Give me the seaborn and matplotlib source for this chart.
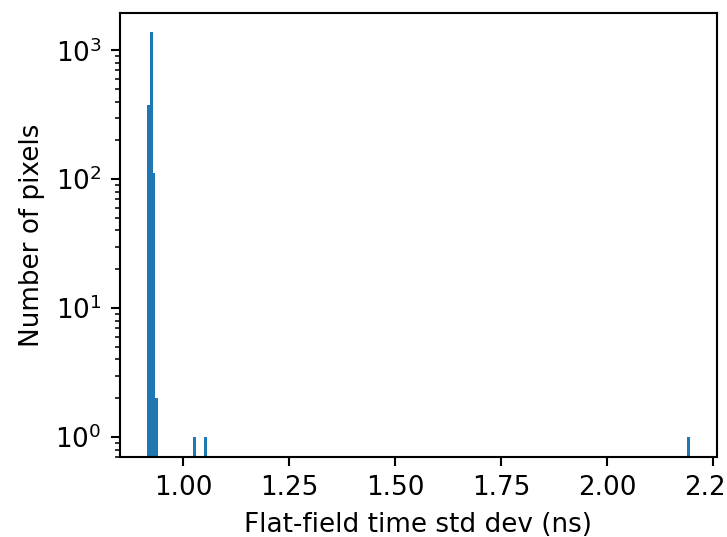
import numpy as np
import pandas as pd
import matplotlib
matplotlib.use("Agg")
import matplotlib.pyplot as plt
from matplotlib.ticker import MultipleLocator
import seaborn as sns

# std dev values (ns) per occupied bin and number of pixels in each
std_values = [0.918, 0.924, 0.931, 0.937, 1.028, 1.054, 2.192]
pixel_counts = [375, 1380, 111, 2, 1, 1, 1]

df = pd.DataFrame({"std": std_values, "n": pixel_counts})

dpi = 189
fig, ax = plt.subplots(figsize=(727 / dpi, 537 / dpi), dpi=dpi)
fig.subplots_adjust(left=0.165, right=0.986, top=0.976, bottom=0.149)

sns.histplot(data=df, x="std", weights="n", bins=200, binrange=(0.915, 2.195),
             color="#1f77b4", alpha=1, linewidth=0, ax=ax)
ax.set_yscale("log")
ax.set_ylim(0.7, 1950)
ax.xaxis.set_major_locator(MultipleLocator(0.25))
ax.set_xlabel("Flat-field time std dev (ns)")
ax.set_ylabel("Number of pixels")

fig.savefig("out.png", dpi=dpi)
